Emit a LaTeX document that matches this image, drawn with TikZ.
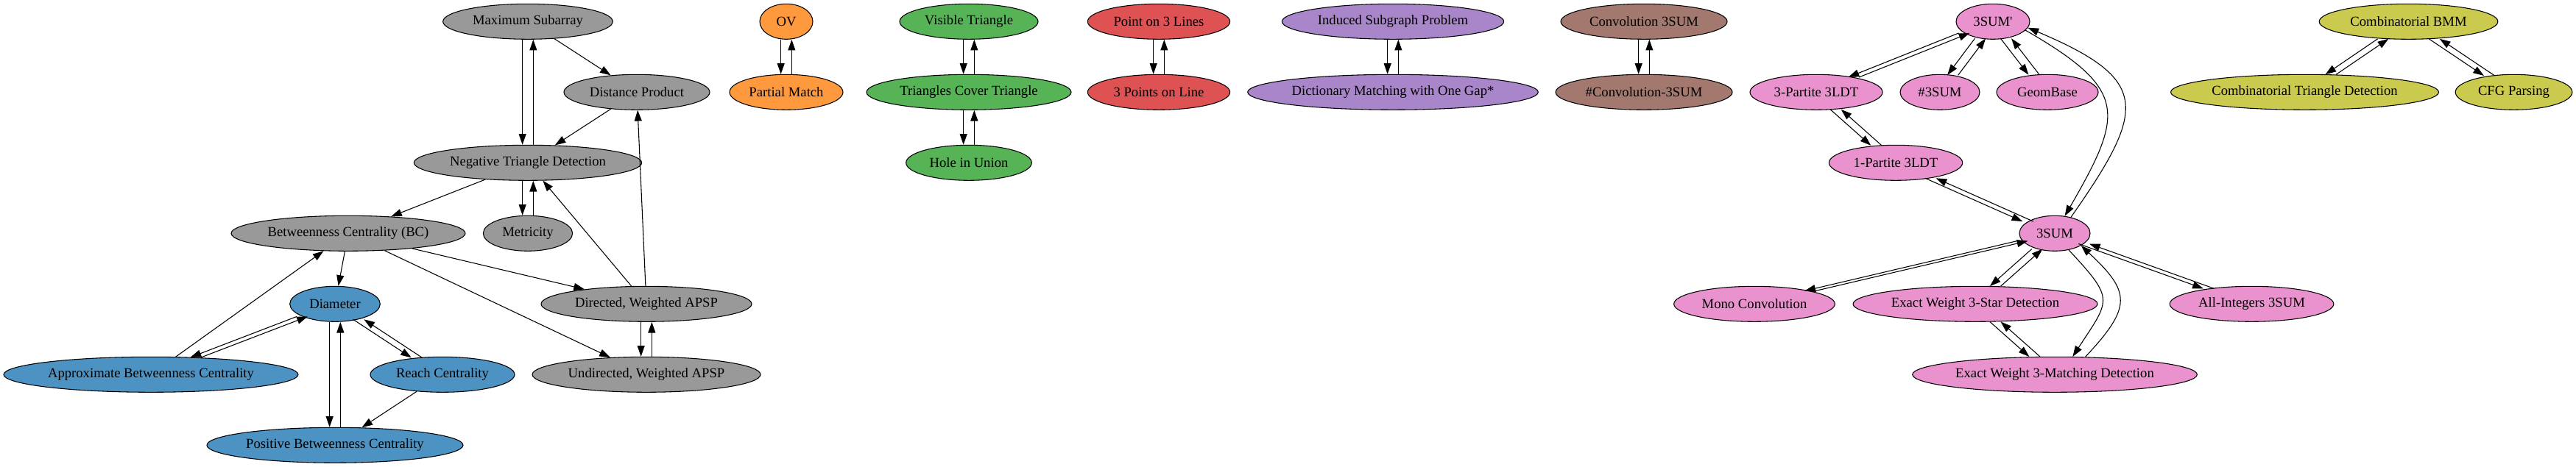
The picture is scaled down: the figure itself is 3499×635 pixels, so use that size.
\documentclass[tikz,border=0pt]{standalone}
\usepackage{fontspec}
\setmainfont{Liberation Serif}
\usepackage{tikz}
\usetikzlibrary{arrows.meta,shapes.geometric}

\definecolor{tabblue}{HTML}{1F77B4}
\definecolor{taborange}{HTML}{FF7F0E}
\definecolor{tabgreen}{HTML}{2CA02C}
\definecolor{tabred}{HTML}{D62728}
\definecolor{tabpurple}{HTML}{9467BD}
\definecolor{tabbrown}{HTML}{8C564B}
\definecolor{tabpink}{HTML}{E377C2}
\definecolor{tabgray}{HTML}{7F7F7F}
\definecolor{tabolive}{HTML}{BCBD22}

\begin{document}
\begin{tikzpicture}[
  x=0.75pt, y=0.75pt,
  prob/.style={ellipse,draw,line width=0.8pt,minimum height=36pt,inner sep=0pt,
    font=\fontsize{14pt}{16pt}\selectfont},
  gry/.style={prob,fill=tabgray!80},
  blu/.style={prob,fill=tabblue!80},
  org/.style={prob,fill=taborange!80},
  grn/.style={prob,fill=tabgreen!80},
  rd/.style={prob,fill=tabred!80},
  prp/.style={prob,fill=tabpurple!80},
  brn/.style={prob,fill=tabbrown!80},
  pnk/.style={prob,fill=tabpink!80},
  olv/.style={prob,fill=tabolive!80},
  arr/.style={-{Triangle[length=11pt,width=7.5pt]},line width=0.8pt},
  dn/.style={arr,transform canvas={xshift=-5.5pt}},
  upw/.style={arr,transform canvas={xshift=5.5pt}}
]
\useasboundingbox (0,0) rectangle (3499,-635);

% APSP / betweenness family
\node[gry,minimum width=173pt] (ms) at (717,-29.3) {Maximum Subarray};
\node[gry,minimum width=148.5pt] (dp) at (865,-125.3) {Distance Product};
\node[gry,minimum width=232pt] (ntd) at (717,-221.3) {Negative Triangle Detection};
\node[gry,minimum width=238.5pt] (bc) at (473,-317.3) {Betweenness Centrality (BC)};
\node[gry,minimum width=91pt] (met) at (717,-317.3) {Metricity};
\node[blu,minimum width=92pt] (diam) at (455,-413.3) {Diameter};
\node[gry,minimum width=214.5pt] (dapsp) at (878,-413.3) {Directed, Weighted APSP};
\node[blu,minimum width=300pt] (abc) at (205,-509.3) {Approximate Betweenness Centrality};
\node[blu,minimum width=147pt] (reach) at (601,-509.3) {Reach Centrality};
\node[gry,minimum width=232.5pt] (uapsp) at (878,-509.3) {Undirected, Weighted APSP};
\node[blu,minimum width=261pt] (pbc) at (455,-605.3) {Positive Betweenness Centrality};

% small components
\node[org,minimum width=54pt] (ov) at (1068,-29.3) {OV};
\node[org,minimum width=115.5pt] (pm) at (1068,-125.3) {Partial Match};
\node[grn,minimum width=141pt] (vt) at (1316,-29.3) {Visible Triangle};
\node[grn,minimum width=208.5pt] (tct) at (1316,-125.3) {Triangles Cover Triangle};
\node[grn,minimum width=128pt] (hole) at (1316,-221.3) {Hole in Union};
\node[rd,minimum width=145pt] (p3l) at (1574,-29.3) {Point on 3 Lines};
\node[rd,minimum width=145pt] (l3p) at (1574,-125.3) {3 Points on Line};
\node[prp,minimum width=226pt] (isp) at (1892,-29.3) {Induced Subgraph Problem};
\node[prp,minimum width=296pt] (dmg) at (1892,-125.3) {Dictionary Matching with One Gap*};
\node[brn,minimum width=169.5pt] (conv) at (2233,-29.3) {Convolution 3SUM};
\node[brn,minimum width=180pt] (hconv) at (2233,-125.3) {\#Convolution-3SUM};

% 3SUM family
\node[pnk,minimum width=75pt] (s3p) at (2707,-29.3) {3SUM\textquotesingle};
\node[pnk,minimum width=135pt] (p3ldt) at (2467,-125.3) {3-Partite 3LDT};
\node[pnk,minimum width=81pt] (h3sum) at (2635,-125.3) {\#3SUM};
\node[pnk,minimum width=103.5pt] (geom) at (2781,-125.3) {GeomBase};
\node[pnk,minimum width=136pt] (p1ldt) at (2575,-221.3) {1-Partite 3LDT};
\node[pnk,minimum width=72pt] (s3) at (2791,-317.3) {3SUM};
\node[pnk,minimum width=164pt] (mono) at (2383,-413.3) {Mono Convolution};
\node[pnk,minimum width=249pt] (star) at (2683,-413.3) {Exact Weight 3-Star Detection};
\node[pnk,minimum width=167pt] (allint) at (3058.5,-413.3) {All-Integers 3SUM};
\node[pnk,minimum width=290pt] (match) at (2791,-509.3) {Exact Weight 3-Matching Detection};

% BMM family
\node[olv,minimum width=182pt] (bmm) at (3271.5,-29.3) {Combinatorial BMM};
\node[olv,minimum width=273pt] (ctd) at (3130.5,-125.3) {Combinatorial Triangle Detection};
\node[olv,minimum width=119pt] (cfg) at (3414.5,-125.3) {CFG Parsing};

% one-way reductions
\draw[arr] (ms) -- (dp);
\draw[arr] (dp) -- (ntd);
\draw[arr] (ntd) -- (bc);
\draw[arr] (dapsp) -- (ntd);
\draw[arr] (dapsp) -- (dp);
\draw[arr] (bc) -- (diam);
\draw[arr] (bc) -- (dapsp);
\draw[arr] (bc) -- (uapsp);
\draw[arr] (abc) -- (bc);
\draw[arr] (reach) -- (pbc);

% two-way reductions
\draw[dn] (ms) -- (ntd);       \draw[upw] (ntd) -- (ms);
\draw[dn] (ntd) -- (met);      \draw[upw] (met) -- (ntd);
\draw[dn] (diam) -- (abc);     \draw[upw] (abc) -- (diam);
\draw[dn] (diam) -- (reach);   \draw[upw] (reach) -- (diam);
\draw[dn] (diam) -- (pbc);     \draw[upw] (pbc) -- (diam);
\draw[dn] (dapsp) -- (uapsp);  \draw[upw] (uapsp) -- (dapsp);
\draw[dn] (ov) -- (pm);        \draw[upw] (pm) -- (ov);
\draw[dn] (vt) -- (tct);       \draw[upw] (tct) -- (vt);
\draw[dn] (tct) -- (hole);     \draw[upw] (hole) -- (tct);
\draw[dn] (p3l) -- (l3p);      \draw[upw] (l3p) -- (p3l);
\draw[dn] (isp) -- (dmg);      \draw[upw] (dmg) -- (isp);
\draw[dn] (conv) -- (hconv);   \draw[upw] (hconv) -- (conv);
\draw[dn] (s3p) -- (p3ldt);    \draw[upw] (p3ldt) -- (s3p);
\draw[dn] (s3p) -- (h3sum);    \draw[upw] (h3sum) -- (s3p);
\draw[dn] (s3p) -- (geom);     \draw[upw] (geom) -- (s3p);
\draw[dn] (p3ldt) -- (p1ldt);  \draw[upw] (p1ldt) -- (p3ldt);
\draw[dn] (p1ldt) -- (s3);     \draw[upw] (s3) -- (p1ldt);
\draw[dn] (s3) -- (mono);      \draw[upw] (mono) -- (s3);
\draw[dn] (s3) -- (star);      \draw[upw] (star) -- (s3);
\draw[dn] (s3) -- (allint);    \draw[upw] (allint) -- (s3);
\draw[dn] (star) -- (match);   \draw[upw] (match) -- (star);
\draw[dn] (bmm) -- (ctd);      \draw[upw] (ctd) -- (bmm);
\draw[dn] (bmm) -- (cfg);      \draw[upw] (cfg) -- (bmm);

% long curved pairs
\draw[arr] (s3p.-15) to[out=-30,in=60,looseness=1.6] (s3.60);
\draw[arr] (s3.45) to[out=55,in=-23,looseness=1.75] (s3p.-10);
\draw[arr] (s3.-50) to[out=-47,in=57,looseness=1.64] (match.45);
\draw[arr] (match.30) to[out=47,in=-43,looseness=1.57] (s3.-25);
\end{tikzpicture}
\end{document}
